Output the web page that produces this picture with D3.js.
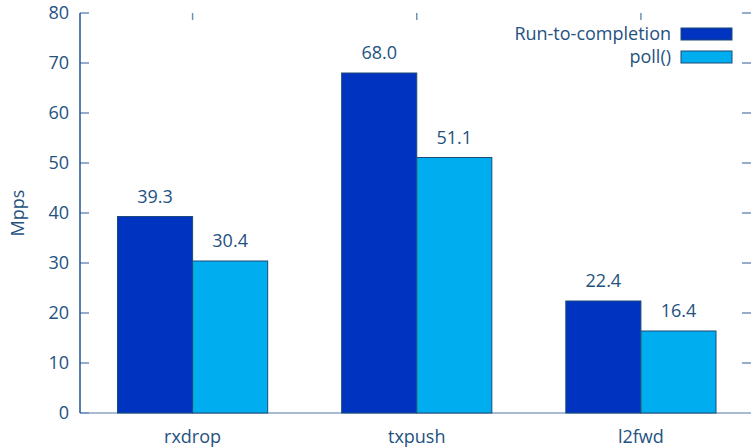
<!DOCTYPE html>
<html>
<head>
<meta charset="utf-8">
<script src="https://cdn.jsdelivr.net/npm/d3@7"></script>
<style>
  body { margin: 0; background: #fff; }
  text { font-family: "Open Sans", "DejaVu Sans", sans-serif; fill: #24527f; }
</style>
</head>
<body>
<div id="canvas"></div>
<script>
"use strict"

/* data */
let categories = ["rxdrop", "txpush", "l2fwd"];
let seriesNames = ["Run-to-completion", "poll()"];
let runToCompletion = [39.3, 68.0, 22.4];
let poll = [30.4, 51.1, 16.4];
let yTicks = [0, 10, 20, 30, 40, 50, 60, 70, 80];

/* drawing config */
let svgWidth = 751;
let svgHeight = 447;
let plotLeft = 80, plotRight = 751, plotTop = 13, plotBottom = 413;
let colors = ["#0033bf", "#00aeef"];
let tickColor = "#6f92b8";
let fontSize = 18;

let svg = d3.select("#canvas")
    .append("svg")
    .attr("width", svgWidth)
    .attr("height", svgHeight);

let yScale = d3.scaleLinear()
    .domain([0, 80])
    .range([plotBottom, plotTop]);

// groups
let xGroup = d3.scaleBand()
    .domain(categories)
    .range([117.5, 716])
    .paddingInner(0.33)
    .paddingOuter(0);

let xSeries = d3.scaleBand()
    .domain([0, 1])
    .range([0, xGroup.bandwidth()]);

let table = categories.map(function (c, i) {
    return { cat: c, values: [runToCompletion[i], poll[i]] };
});

/* bottom line */
svg.append("line")
    .attr("x1", plotLeft).attr("x2", plotRight)
    .attr("y1", plotBottom).attr("y2", plotBottom)
    .attr("stroke", "#8aa6c4")
    .attr("stroke-width", 1.5);

/* y ticks left and right (mirrored, inward) */
yTicks.forEach(function (t) {
    svg.append("line")
        .attr("x1", plotLeft).attr("x2", plotLeft + 9)
        .attr("y1", yScale(t)).attr("y2", yScale(t))
        .attr("stroke", tickColor).attr("stroke-width", 1.5);
    if (t > 0) {
        svg.append("line")
            .attr("x1", plotRight - 9).attr("x2", plotRight)
            .attr("y1", yScale(t)).attr("y2", yScale(t))
            .attr("stroke", tickColor).attr("stroke-width", 1.5);
    }
    svg.append("text")
        .attr("x", plotLeft - 11)
        .attr("y", yScale(t))
        .attr("dy", "0.36em")
        .attr("text-anchor", "end")
        .attr("font-size", fontSize)
        .text(t);
});

/* top mirror ticks + category labels */
categories.forEach(function (c) {
    let cx = xGroup(c) + xGroup.bandwidth() / 2;
    svg.append("line")
        .attr("x1", cx).attr("x2", cx)
        .attr("y1", plotTop).attr("y2", plotTop + 7)
        .attr("stroke", tickColor).attr("stroke-width", 1.5);
    svg.append("text")
        .attr("x", cx)
        .attr("y", 443)
        .attr("text-anchor", "middle")
        .attr("font-size", fontSize)
        .text(c);
});

/* bars */
let groups = svg.selectAll("g.grp")
    .data(table)
    .join("g")
    .attr("class", "grp")
    .attr("transform", function (d) { return "translate(" + xGroup(d.cat) + ",0)"; });

groups.selectAll("rect")
    .data(function (d) { return d.values; })
    .join("rect")
    .attr("x", function (v, i) { return xSeries(i); })
    .attr("y", function (v) { return yScale(v); })
    .attr("width", xSeries.bandwidth())
    .attr("height", function (v) { return plotBottom - yScale(v); })
    .attr("fill", function (v, i) { return colors[i]; })
    .attr("stroke", "#1d4a78")
    .attr("stroke-width", 1);

groups.selectAll("text.val")
    .data(function (d) { return d.values; })
    .join("text")
    .attr("class", "val")
    .attr("x", function (v, i) { return xSeries(i) + xSeries.bandwidth() / 2; })
    .attr("y", function (v) { return yScale(v) - 14; })
    .attr("text-anchor", "middle")
    .attr("font-size", fontSize)
    .text(function (v) { return v.toFixed(1); });

/* y axis line */
svg.append("line")
    .attr("x1", plotLeft).attr("x2", plotLeft)
    .attr("y1", plotTop).attr("y2", plotBottom)
    .attr("stroke", "#1f5590")
    .attr("stroke-width", 1.5);

/* y label */
svg.append("text")
    .attr("transform", "translate(24," + yScale(40) + ") rotate(-90)")
    .attr("text-anchor", "middle")
    .attr("font-size", fontSize)
    .text("Mpps");

/* legend */
seriesNames.forEach(function (name, i) {
    let ly = 34 + i * 23;
    svg.append("rect")
        .attr("x", 681).attr("y", ly - 6)
        .attr("width", 51).attr("height", 12)
        .attr("fill", colors[i])
        .attr("stroke", "#1d4a78").attr("stroke-width", 1);
    svg.append("text")
        .attr("x", 671)
        .attr("y", ly)
        .attr("dy", "0.36em")
        .attr("text-anchor", "end")
        .attr("font-size", fontSize)
        .text(name);
});
</script>
</body>
</html>
